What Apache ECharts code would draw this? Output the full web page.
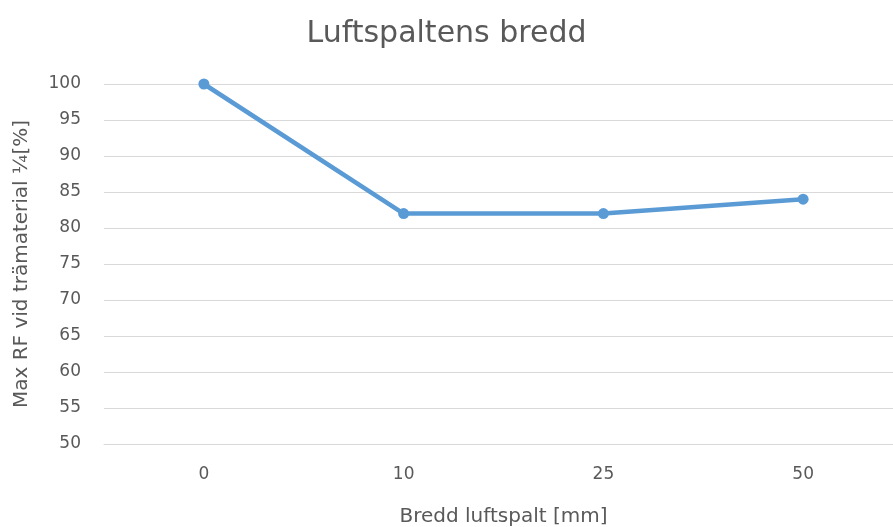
<!DOCTYPE html>
<html>
<head>
<meta charset="utf-8">
<script src="https://cdn.jsdelivr.net/npm/echarts@6/dist/echarts.min.js"></script>
<style>
  html, body { margin: 0; padding: 0; background: #ffffff; }
  #chart { width: 893px; height: 527px; }
</style>
</head>
<body>
<div id="chart"></div>
<script>
// Air gap widths (mm) and the resulting max relative humidity in the wood
const gapWidths = ['0', '10', '25', '50'];
const maxRF = [100, 82, 82, 84];
const yTicks = { min: 50, max: 100, step: 5 };

const textColor = '#595959';
const fontFamily = '"DejaVu Sans", "Open Sans", sans-serif';

const chart = echarts.init(document.getElementById('chart'));
chart.setOption({
  animation: false,
  backgroundColor: '#ffffff',
  title: {
    text: 'Luftspaltens bredd',
    left: 'center',
    top: 14,
    textStyle: { color: textColor, fontSize: 30, fontWeight: 'normal', fontFamily: fontFamily }
  },
  grid: { left: 104, top: 84, width: 799, height: 360, outerBoundsMode: 'none', containLabel: false },
  xAxis: {
    type: 'category',
    data: gapWidths,
    boundaryGap: true,
    name: 'Bredd luftspalt [mm]',
    nameLocation: 'middle',
    nameGap: 63,
    nameTextStyle: { color: textColor, fontSize: 20, fontFamily: fontFamily },
    axisLine: { show: true, lineStyle: { color: '#d9d9d9', width: 1 } },
    axisTick: { show: false },
    axisLabel: { color: textColor, fontSize: 17, margin: 22, fontFamily: fontFamily }
  },
  yAxis: {
    type: 'value',
    min: yTicks.min,
    max: yTicks.max,
    interval: yTicks.step,
    name: 'Max RF vid trämaterial ¼[%]',
    nameLocation: 'middle',
    nameGap: 72,
    nameTextStyle: { color: textColor, fontSize: 20, fontFamily: fontFamily },
    axisLine: { show: false },
    axisTick: { show: false },
    axisLabel: { color: textColor, fontSize: 17, margin: 23, fontFamily: fontFamily },
    splitLine: { lineStyle: { color: '#d9d9d9', width: 1 } }
  },
  series: [{
    type: 'line',
    data: maxRF,
    symbol: 'circle',
    symbolSize: 11,
    lineStyle: { color: '#5b9bd5', width: 4.5 },
    itemStyle: { color: '#5b9bd5' }
  }]
});
</script>
</body>
</html>
